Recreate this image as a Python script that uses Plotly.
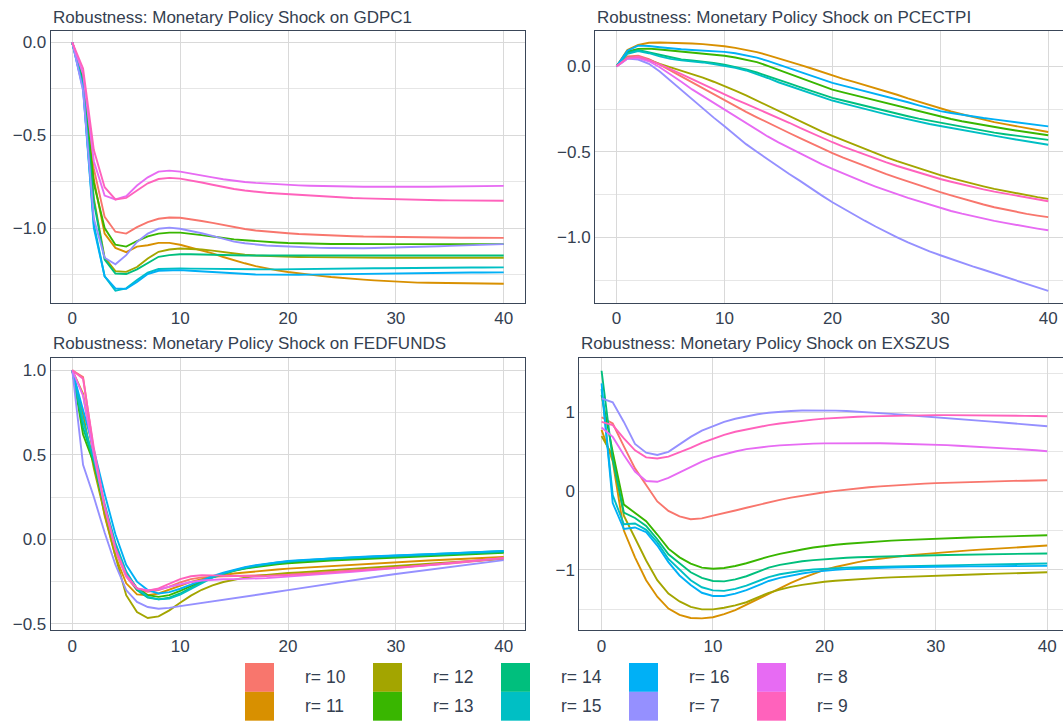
import plotly.graph_objects as go

# ---------------- data ----------------
horizon = list(range(41))
shock_labels = ["r= 10", "r= 11", "r= 12", "r= 13", "r= 14", "r= 15", "r= 16", "r= 7", "r= 8", "r= 9"]
shock_colors = ["#F8766D", "#D89000", "#A3A500", "#39B600", "#00BF7D", "#00BFC4", "#00B0F6", "#9590FF", "#E76BF3", "#FF62BC"]
panel_titles = [
    "Robustness: Monetary Policy Shock on GDPC1",
    "Robustness: Monetary Policy Shock on PCECTPI",
    "Robustness: Monetary Policy Shock on FEDFUNDS",
    "Robustness: Monetary Policy Shock on EXSZUS",
]
x_ticks = [0, 10, 20, 30, 40]

# GDPC1
gdp_r10 = [0, -0.19, -0.68, -0.94, -1.02, -1.03, -0.995, -0.968, -0.95, -0.943, -0.945,
           -0.952, -0.962, -0.972, -0.984, -0.996, -1.005, -1.013, -1.019, -1.024, -1.028,
           -1.032, -1.035, -1.038, -1.04, -1.042, -1.044, -1.046, -1.047, -1.048, -1.049,
           -1.05, -1.05, -1.051, -1.051, -1.052, -1.052, -1.052, -1.053, -1.053, -1.053]
gdp_r11 = [0, -0.18, -0.74, -1.03, -1.107, -1.13, -1.10, -1.093, -1.08, -1.08, -1.09,
           -1.105, -1.12, -1.137, -1.156, -1.175, -1.19, -1.205, -1.218, -1.228, -1.237,
           -1.245, -1.252, -1.258, -1.264, -1.27, -1.274, -1.278, -1.282, -1.286, -1.29,
           -1.292, -1.294, -1.295, -1.296, -1.297, -1.298, -1.299, -1.299, -1.3, -1.3]
gdp_r12 = [0, -0.22, -0.84, -1.16, -1.232, -1.236, -1.21, -1.164, -1.128, -1.116, -1.11,
           -1.112, -1.116, -1.122, -1.13, -1.139, -1.144, -1.148, -1.151, -1.153, -1.155,
           -1.156, -1.157, -1.158, -1.159, -1.159, -1.16, -1.16, -1.16, -1.16, -1.16,
           -1.16, -1.16, -1.16, -1.16, -1.16, -1.16, -1.16, -1.16, -1.16, -1.16]
gdp_r13 = [0, -0.21, -0.76, -1.0, -1.09, -1.1, -1.07, -1.045, -1.03, -1.025, -1.025,
           -1.03, -1.038, -1.046, -1.054, -1.061, -1.066, -1.071, -1.075, -1.078, -1.081,
           -1.083, -1.084, -1.085, -1.086, -1.086, -1.087, -1.087, -1.087, -1.087, -1.087,
           -1.087, -1.087, -1.087, -1.087, -1.087, -1.087, -1.087, -1.087, -1.087, -1.087]
gdp_r14 = [0, -0.22, -0.86, -1.17, -1.245, -1.248, -1.223, -1.19, -1.155, -1.146, -1.141,
           -1.141, -1.143, -1.145, -1.147, -1.148, -1.148, -1.148, -1.148, -1.148, -1.148,
           -1.148, -1.148, -1.148, -1.148, -1.148, -1.148, -1.148, -1.148, -1.148, -1.148,
           -1.148, -1.148, -1.148, -1.148, -1.148, -1.148, -1.148, -1.148, -1.148, -1.148]
gdp_r15 = [0, -0.24, -0.98, -1.26, -1.337, -1.325, -1.28, -1.24, -1.221, -1.218, -1.218,
           -1.219, -1.22, -1.221, -1.222, -1.223, -1.223, -1.223, -1.223, -1.223, -1.222,
           -1.222, -1.221, -1.221, -1.22, -1.219, -1.219, -1.218, -1.217, -1.217, -1.216,
           -1.216, -1.215, -1.215, -1.214, -1.214, -1.214, -1.213, -1.213, -1.212, -1.212]
gdp_r16 = [0, -0.25, -1.0, -1.26, -1.325, -1.328, -1.29, -1.248, -1.23, -1.227, -1.227,
           -1.23, -1.234, -1.238, -1.242, -1.246, -1.248, -1.25, -1.251, -1.252, -1.252,
           -1.252, -1.251, -1.25, -1.249, -1.248, -1.247, -1.246, -1.245, -1.244, -1.243,
           -1.243, -1.242, -1.242, -1.241, -1.241, -1.24, -1.24, -1.24, -1.239, -1.239]
gdp_r7 = [0, -0.26, -0.95, -1.16, -1.195, -1.146, -1.075, -1.03, -1.004, -0.998, -1.004,
          -1.015, -1.028, -1.042, -1.058, -1.073, -1.082, -1.089, -1.094, -1.097, -1.1,
          -1.103, -1.105, -1.107, -1.108, -1.109, -1.109, -1.109, -1.108, -1.107, -1.106,
          -1.104, -1.102, -1.1, -1.098, -1.096, -1.094, -1.092, -1.09, -1.088, -1.087]
gdp_r8 = [0, -0.17, -0.64, -0.825, -0.846, -0.829, -0.771, -0.727, -0.696, -0.691, -0.696,
          -0.705, -0.716, -0.727, -0.737, -0.746, -0.752, -0.757, -0.761, -0.764, -0.767,
          -0.77, -0.772, -0.774, -0.775, -0.776, -0.777, -0.778, -0.778, -0.779, -0.779,
          -0.779, -0.778, -0.778, -0.777, -0.777, -0.776, -0.775, -0.774, -0.774, -0.773]
gdp_r9 = [0, -0.14, -0.58, -0.78, -0.846, -0.838, -0.798, -0.759, -0.736, -0.73, -0.734,
          -0.743, -0.755, -0.767, -0.779, -0.79, -0.798, -0.805, -0.81, -0.814, -0.818,
          -0.822, -0.826, -0.829, -0.832, -0.835, -0.838, -0.84, -0.842, -0.844, -0.846,
          -0.847, -0.848, -0.849, -0.85, -0.851, -0.851, -0.852, -0.852, -0.853, -0.853]

# PCECTPI
pce_r10 = [0, 0.058, 0.062, 0.042, 0.01, -0.025, -0.06, -0.095, -0.13, -0.165, -0.2,
           -0.233, -0.266, -0.298, -0.33, -0.36, -0.39, -0.42, -0.45, -0.48, -0.508,
           -0.534, -0.559, -0.583, -0.607, -0.63, -0.652, -0.674, -0.695, -0.716, -0.736,
           -0.755, -0.774, -0.792, -0.808, -0.824, -0.838, -0.851, -0.863, -0.873, -0.882]
pce_r11 = [0, 0.096, 0.125, 0.138, 0.14, 0.139, 0.137, 0.134, 0.13, 0.125, 0.118,
           0.108, 0.097, 0.083, 0.066, 0.048, 0.029, 0.009, -0.011, -0.032, -0.054,
           -0.073, -0.091, -0.109, -0.127, -0.145, -0.166, -0.187, -0.207, -0.228, -0.248,
           -0.264, -0.28, -0.296, -0.311, -0.326, -0.338, -0.35, -0.362, -0.373, -0.384]
pce_r12 = [0, 0.05, 0.052, 0.037, 0.015, -0.005, -0.025, -0.045, -0.066, -0.09, -0.115,
           -0.142, -0.17, -0.2, -0.23, -0.262, -0.292, -0.322, -0.352, -0.38, -0.407,
           -0.433, -0.459, -0.484, -0.509, -0.533, -0.555, -0.576, -0.597, -0.617, -0.636,
           -0.654, -0.671, -0.687, -0.702, -0.717, -0.73, -0.743, -0.754, -0.765, -0.775]
pce_r13 = [0, 0.087, 0.102, 0.104, 0.099, 0.093, 0.088, 0.083, 0.078, 0.071, 0.062,
           0.052, 0.04, 0.025, 0.003, -0.02, -0.045, -0.069, -0.092, -0.114, -0.136,
           -0.152, -0.168, -0.184, -0.199, -0.213, -0.23, -0.247, -0.264, -0.28, -0.295,
           -0.308, -0.321, -0.333, -0.344, -0.355, -0.365, -0.375, -0.385, -0.394, -0.403]
pce_r14 = [0, 0.081, 0.096, 0.082, 0.065, 0.05, 0.04, 0.034, 0.028, 0.02, 0.01,
           -0.002, -0.018, -0.036, -0.056, -0.078, -0.1, -0.122, -0.143, -0.164, -0.184,
           -0.2, -0.216, -0.232, -0.247, -0.262, -0.277, -0.292, -0.306, -0.318, -0.33,
           -0.342, -0.354, -0.366, -0.377, -0.388, -0.397, -0.406, -0.414, -0.422, -0.43]
pce_r15 = [0, 0.073, 0.09, 0.077, 0.058, 0.044, 0.035, 0.03, 0.023, 0.014, 0.004,
           -0.008, -0.024, -0.045, -0.068, -0.093, -0.115, -0.137, -0.159, -0.18, -0.2,
           -0.217, -0.234, -0.25, -0.266, -0.281, -0.296, -0.311, -0.325, -0.337, -0.349,
           -0.361, -0.373, -0.384, -0.395, -0.406, -0.417, -0.428, -0.439, -0.449, -0.459]
pce_r16 = [0, 0.092, 0.121, 0.119, 0.112, 0.105, 0.1, 0.096, 0.093, 0.09, 0.085,
           0.077, 0.066, 0.051, 0.032, 0.01, -0.012, -0.034, -0.055, -0.076, -0.097,
           -0.113, -0.129, -0.144, -0.159, -0.174, -0.192, -0.21, -0.228, -0.245, -0.262,
           -0.273, -0.284, -0.294, -0.302, -0.31, -0.319, -0.328, -0.336, -0.344, -0.351]
pce_r7 = [0, 0.045, 0.04, 0.015, -0.03, -0.085, -0.14, -0.195, -0.25, -0.3, -0.35,
          -0.405, -0.455, -0.5, -0.545, -0.585, -0.63, -0.67, -0.715, -0.755, -0.795,
          -0.832, -0.868, -0.903, -0.937, -0.97, -1.0, -1.03, -1.057, -1.082, -1.105,
          -1.128, -1.15, -1.17, -1.19, -1.21, -1.232, -1.252, -1.272, -1.293, -1.314]
pce_r8 = [0, 0.045, 0.048, 0.03, -0.005, -0.045, -0.09, -0.135, -0.175, -0.215, -0.255,
          -0.295, -0.335, -0.37, -0.41, -0.445, -0.478, -0.51, -0.542, -0.572, -0.6,
          -0.627, -0.653, -0.679, -0.703, -0.727, -0.748, -0.77, -0.79, -0.81, -0.829,
          -0.846, -0.862, -0.877, -0.891, -0.904, -0.916, -0.928, -0.939, -0.949, -0.959]
pce_r9 = [0, 0.05, 0.056, 0.038, 0.012, -0.015, -0.045, -0.075, -0.105, -0.135, -0.165,
          -0.193, -0.22, -0.247, -0.274, -0.3, -0.33, -0.36, -0.389, -0.417, -0.444,
          -0.47, -0.494, -0.517, -0.54, -0.562, -0.583, -0.603, -0.623, -0.641, -0.659,
          -0.675, -0.691, -0.706, -0.72, -0.733, -0.745, -0.757, -0.768, -0.779, -0.789]

# FEDFUNDS
ff_r10 = [1.0, 0.96, 0.52, 0.18, -0.07, -0.22, -0.30, -0.31, -0.30, -0.28, -0.255,
          -0.235, -0.225, -0.22, -0.218, -0.217, -0.216, -0.215, -0.213, -0.21, -0.207,
          -0.204, -0.2, -0.196, -0.192, -0.188, -0.184, -0.18, -0.176, -0.172, -0.168,
          -0.163, -0.158, -0.153, -0.148, -0.143, -0.138, -0.132, -0.126, -0.12, -0.114]
ff_r11 = [1.0, 0.86, 0.48, 0.14, -0.1, -0.26, -0.325, -0.33, -0.32, -0.297, -0.272,
          -0.252, -0.236, -0.222, -0.211, -0.202, -0.195, -0.189, -0.183, -0.178, -0.173,
          -0.169, -0.165, -0.161, -0.157, -0.153, -0.149, -0.146, -0.142, -0.138, -0.134,
          -0.131, -0.128, -0.125, -0.122, -0.119, -0.116, -0.113, -0.11, -0.107, -0.104]
ff_r12 = [1.0, 0.74, 0.42, 0.15, -0.1, -0.33, -0.43, -0.465, -0.455, -0.42, -0.375,
          -0.333, -0.298, -0.272, -0.252, -0.237, -0.226, -0.217, -0.21, -0.204, -0.199,
          -0.195, -0.191, -0.187, -0.183, -0.179, -0.175, -0.171, -0.167, -0.163, -0.159,
          -0.155, -0.151, -0.147, -0.143, -0.139, -0.134, -0.129, -0.124, -0.119, -0.114]
ff_r13 = [1.0, 0.62, 0.45, 0.19, -0.04, -0.2, -0.29, -0.33, -0.34, -0.33, -0.305,
          -0.275, -0.247, -0.222, -0.202, -0.186, -0.173, -0.163, -0.154, -0.147, -0.141,
          -0.136, -0.132, -0.128, -0.125, -0.122, -0.119, -0.116, -0.113, -0.111, -0.108,
          -0.105, -0.102, -0.099, -0.097, -0.094, -0.091, -0.088, -0.085, -0.082, -0.079]
ff_r14 = [1.0, 0.66, 0.46, 0.19, -0.04, -0.2, -0.3, -0.345, -0.355, -0.345, -0.32,
          -0.287, -0.253, -0.225, -0.203, -0.185, -0.171, -0.159, -0.149, -0.141, -0.134,
          -0.129, -0.125, -0.121, -0.118, -0.115, -0.112, -0.109, -0.106, -0.104, -0.101,
          -0.098, -0.095, -0.093, -0.09, -0.088, -0.085, -0.082, -0.08, -0.077, -0.075]
ff_r15 = [1.0, 0.7, 0.47, 0.21, -0.02, -0.19, -0.29, -0.34, -0.355, -0.35, -0.327,
          -0.292, -0.256, -0.226, -0.201, -0.182, -0.167, -0.155, -0.145, -0.137, -0.13,
          -0.125, -0.12, -0.116, -0.113, -0.11, -0.107, -0.104, -0.101, -0.099, -0.096,
          -0.093, -0.091, -0.088, -0.085, -0.083, -0.08, -0.077, -0.075, -0.072, -0.069]
ff_r16 = [1.0, 0.77, 0.53, 0.27, 0.03, -0.15, -0.25, -0.3, -0.32, -0.312, -0.292,
          -0.267, -0.242, -0.218, -0.197, -0.179, -0.164, -0.152, -0.143, -0.135, -0.128,
          -0.123, -0.119, -0.115, -0.112, -0.109, -0.106, -0.103, -0.1, -0.098, -0.095,
          -0.092, -0.09, -0.087, -0.085, -0.082, -0.08, -0.077, -0.074, -0.071, -0.068]
ff_r7 = [1.0, 0.44, 0.25, 0.04, -0.15, -0.3, -0.37, -0.4, -0.41, -0.405, -0.395,
         -0.386, -0.376, -0.367, -0.357, -0.348, -0.338, -0.329, -0.319, -0.31, -0.3,
         -0.29, -0.281, -0.271, -0.262, -0.252, -0.243, -0.233, -0.224, -0.214, -0.205,
         -0.197, -0.189, -0.18, -0.172, -0.164, -0.156, -0.148, -0.139, -0.131, -0.123]
ff_r8 = [1.0, 0.85, 0.5, 0.19, -0.06, -0.22, -0.29, -0.3, -0.295, -0.28, -0.265,
         -0.252, -0.243, -0.238, -0.236, -0.235, -0.234, -0.232, -0.229, -0.225, -0.221,
         -0.217, -0.212, -0.207, -0.202, -0.197, -0.192, -0.187, -0.182, -0.176, -0.17,
         -0.165, -0.159, -0.153, -0.147, -0.141, -0.135, -0.129, -0.123, -0.117, -0.111]
ff_r9 = [1.0, 0.95, 0.54, 0.2, -0.05, -0.21, -0.29, -0.305, -0.29, -0.262, -0.235,
         -0.218, -0.212, -0.213, -0.215, -0.217, -0.218, -0.218, -0.217, -0.215, -0.212,
         -0.208, -0.204, -0.2, -0.196, -0.192, -0.188, -0.183, -0.178, -0.173, -0.168,
         -0.163, -0.157, -0.151, -0.146, -0.14, -0.134, -0.128, -0.122, -0.116, -0.11]

# EXSZUS
fx_r10 = [0.94, 0.86, 0.57, 0.29, 0.08, -0.13, -0.25, -0.32, -0.355, -0.345, -0.31,
          -0.28, -0.245, -0.21, -0.175, -0.14, -0.11, -0.082, -0.057, -0.034, -0.013,
          0.005, 0.022, 0.037, 0.05, 0.062, 0.073, 0.082, 0.09, 0.097, 0.103,
          0.108, 0.113, 0.117, 0.121, 0.125, 0.128, 0.131, 0.134, 0.137, 0.14]
fx_r11 = [0.78, 0.38, -0.5, -0.84, -1.13, -1.34, -1.49, -1.57, -1.61, -1.615, -1.6,
          -1.56, -1.51, -1.44, -1.37, -1.3, -1.23, -1.165, -1.105, -1.05, -1.0,
          -0.963, -0.93, -0.9, -0.875, -0.855, -0.838, -0.823, -0.809, -0.796, -0.784,
          -0.772, -0.761, -0.751, -0.742, -0.733, -0.724, -0.715, -0.707, -0.699, -0.69]
fx_r12 = [0.7, 0.45, -0.31, -0.59, -0.88, -1.13, -1.3, -1.4, -1.47, -1.5, -1.5,
          -1.48, -1.45, -1.41, -1.35, -1.29, -1.25, -1.215, -1.19, -1.168, -1.15,
          -1.137, -1.126, -1.117, -1.109, -1.1, -1.094, -1.088, -1.082, -1.076, -1.07,
          -1.066, -1.062, -1.058, -1.054, -1.05, -1.046, -1.042, -1.038, -1.034, -1.03]
fx_r13 = [1.22, 0.5, -0.17, -0.27, -0.38, -0.55, -0.73, -0.84, -0.92, -0.97, -0.985,
          -0.975, -0.95, -0.915, -0.87, -0.83, -0.795, -0.765, -0.74, -0.715, -0.695,
          -0.68, -0.667, -0.655, -0.645, -0.636, -0.628, -0.621, -0.614, -0.608, -0.602,
          -0.597, -0.592, -0.587, -0.583, -0.579, -0.575, -0.571, -0.567, -0.563, -0.56]
fx_r14 = [1.53, 0.4, -0.27, -0.34, -0.44, -0.61, -0.8, -0.92, -1.03, -1.1, -1.14,
          -1.145, -1.12, -1.08, -1.02, -0.97, -0.935, -0.91, -0.89, -0.875, -0.862,
          -0.852, -0.845, -0.839, -0.834, -0.83, -0.826, -0.822, -0.819, -0.816, -0.813,
          -0.81, -0.807, -0.805, -0.803, -0.801, -0.799, -0.797, -0.795, -0.793, -0.79]
fx_r15 = [1.3, -0.05, -0.42, -0.41, -0.49, -0.65, -0.86, -1.0, -1.13, -1.22, -1.26,
          -1.265, -1.24, -1.2, -1.14, -1.09, -1.055, -1.03, -1.01, -0.995, -0.985,
          -0.977, -0.971, -0.966, -0.962, -0.958, -0.955, -0.952, -0.949, -0.946, -0.943,
          -0.941, -0.938, -0.936, -0.933, -0.931, -0.928, -0.926, -0.923, -0.921, -0.918]
fx_r16 = [1.37, -0.15, -0.48, -0.46, -0.52, -0.69, -0.9, -1.07, -1.19, -1.29, -1.33,
          -1.33, -1.3, -1.255, -1.2, -1.14, -1.1, -1.07, -1.045, -1.025, -1.01,
          -0.999, -0.99, -0.983, -0.977, -0.972, -0.968, -0.965, -0.962, -0.96, -0.958,
          -0.957, -0.956, -0.955, -0.954, -0.953, -0.952, -0.951, -0.95, -0.949, -0.948]
fx_r7 = [1.18, 1.13, 0.88, 0.6, 0.49, 0.46, 0.5, 0.6, 0.69, 0.77, 0.83,
         0.88, 0.92, 0.952, 0.978, 0.997, 1.01, 1.019, 1.025, 1.027, 1.027,
         1.024, 1.019, 1.012, 1.004, 0.994, 0.983, 0.972, 0.962, 0.952, 0.942,
         0.931, 0.919, 0.907, 0.895, 0.884, 0.872, 0.86, 0.849, 0.837, 0.826]
fx_r8 = [0.81, 0.69, 0.46, 0.25, 0.13, 0.12, 0.17, 0.24, 0.31, 0.375, 0.43,
         0.47, 0.505, 0.535, 0.555, 0.57, 0.583, 0.593, 0.6, 0.605, 0.608,
         0.61, 0.611, 0.611, 0.61, 0.609, 0.607, 0.604, 0.6, 0.596, 0.591,
         0.585, 0.578, 0.571, 0.564, 0.556, 0.548, 0.54, 0.532, 0.521, 0.508]
fx_r9 = [0.88, 0.84, 0.67, 0.52, 0.43, 0.415, 0.44, 0.49, 0.55, 0.615, 0.67,
         0.715, 0.755, 0.785, 0.815, 0.84, 0.86, 0.878, 0.895, 0.91, 0.922,
         0.932, 0.94, 0.946, 0.951, 0.955, 0.959, 0.962, 0.964, 0.965, 0.966,
         0.966, 0.966, 0.965, 0.964, 0.963, 0.961, 0.959, 0.957, 0.955, 0.953]

panel_series = [
    [gdp_r10, gdp_r11, gdp_r12, gdp_r13, gdp_r14, gdp_r15, gdp_r16, gdp_r7, gdp_r8, gdp_r9],
    [pce_r10, pce_r11, pce_r12, pce_r13, pce_r14, pce_r15, pce_r16, pce_r7, pce_r8, pce_r9],
    [ff_r10, ff_r11, ff_r12, ff_r13, ff_r14, ff_r15, ff_r16, ff_r7, ff_r8, ff_r9],
    [fx_r10, fx_r11, fx_r12, fx_r13, fx_r14, fx_r15, fx_r16, fx_r7, fx_r8, fx_r9],
]

# ---------------- layout helpers ----------------
W, H = 1063, 722
TEXT = "#344050"
BORDER = "#3A4658"
GRID = "#D9D9D9"
GRID_MINOR = "#E6E6E6"
FONT = "Liberation Sans, Arial, sans-serif"


def fx(p):
    return p / W


def fy(p):
    return 1 - p / H


# pixel boxes: (left, right, top, bottom)
boxes = [
    (50.7, 525.3, 30.7, 304.7),
    (595.0, 1063.0, 30.7, 304.7),
    (50.7, 525.3, 360.0, 633.7),
    (579.3, 1063.0, 360.0, 633.7),
]
x_ranges = [[-2, 42], [-2, 41.37], [-2, 42], [-2, 41.42]]
y_ranges = [[-1.404, 0.064], [-1.3845, 0.2096], [-0.537, 1.072], [-1.765, 1.692]]
y_dticks = [0.5, 0.5, 0.5, 1.0]
y_formats = [".1f", ".1f", ".1f", "d"]
right_side = [False, True, False, True]
title_shift = [1.5, 1.5, 3.0, 3.0]

fig = go.Figure()

for p in range(4):
    suffix = "" if p == 0 else str(p + 1)
    for k in range(len(shock_labels)):
        fig.add_trace(go.Scatter(
            x=horizon, y=panel_series[p][k], mode="lines",
            name=shock_labels[k], legendgroup=shock_labels[k], showlegend=False,
            line=dict(color=shock_colors[k], width=1.9),
            xaxis="x" + suffix, yaxis="y" + suffix,
            hovertemplate="%{y:.3f}<extra>" + shock_labels[k] + "</extra>",
        ))

layout = dict(
    width=W, height=H, autosize=False,
    margin=dict(l=0, r=0, t=0, b=0, pad=0),
    paper_bgcolor="white", plot_bgcolor="white",
    font=dict(family=FONT, size=17, color=TEXT),
    showlegend=False,
    annotations=[], shapes=[],
)

for p in range(4):
    l, r, t, b = boxes[p]
    suffix = "" if p == 0 else str(p + 1)
    layout["xaxis" + suffix] = dict(
        domain=[fx(l), fx(r)], range=x_ranges[p], anchor="y" + suffix,
        tickvals=x_ticks, ticks="", showgrid=True, gridcolor=GRID, gridwidth=1.3,
        zeroline=False, showline=True, linecolor=BORDER, linewidth=1, mirror=True,
        tickfont=dict(size=17, color=TEXT, family=FONT),
    )
    layout["yaxis" + suffix] = dict(
        domain=[fy(b), fy(t)], range=y_ranges[p], anchor="x" + suffix,
        dtick=y_dticks[p], tick0=0, tickformat=y_formats[p], ticks="",
        showgrid=True, gridcolor=GRID, gridwidth=1.3, zeroline=False,
        showline=True, linecolor=BORDER, linewidth=1, mirror=not right_side[p],
        minor=dict(dtick=y_dticks[p] / 2, showgrid=True, gridcolor=GRID_MINOR, gridwidth=1),
        tickfont=dict(size=17, color=TEXT, family=FONT),
    )
    layout["annotations"].append(dict(
        text=panel_titles[p], xref="paper", yref="paper",
        x=fx(l), y=fy(t), xanchor="left", yanchor="bottom", yshift=title_shift[p],
        showarrow=False, font=dict(size=17, color=TEXT, family=FONT),
    ))

# custom legend: filled squares in two rows, filled column by column
sq_w, sq_h = 29, 29
col_x0, col_step = 245.0, 128.0
row_top = [666.7, 695.7]
label_dx = 57.7
for k, lab in enumerate(shock_labels):
    col, row = k // 2, k % 2
    x0 = col_x0 + col * col_step
    y0 = row_top[row]
    layout["shapes"].append(dict(
        type="rect", xref="paper", yref="paper",
        x0=fx(x0), x1=fx(x0 + sq_w), y0=fy(y0 + sq_h), y1=fy(y0),
        fillcolor=shock_colors[k], line=dict(width=0), layer="above",
    ))
    layout["annotations"].append(dict(
        text=lab, xref="paper", yref="paper",
        x=fx(x0 + label_dx), y=fy(y0 + sq_h / 2), xanchor="left", yanchor="middle",
        showarrow=False, font=dict(size=17.5, color=TEXT, family=FONT),
    ))

fig.update_layout(**layout)
fig.write_html("out.html")
